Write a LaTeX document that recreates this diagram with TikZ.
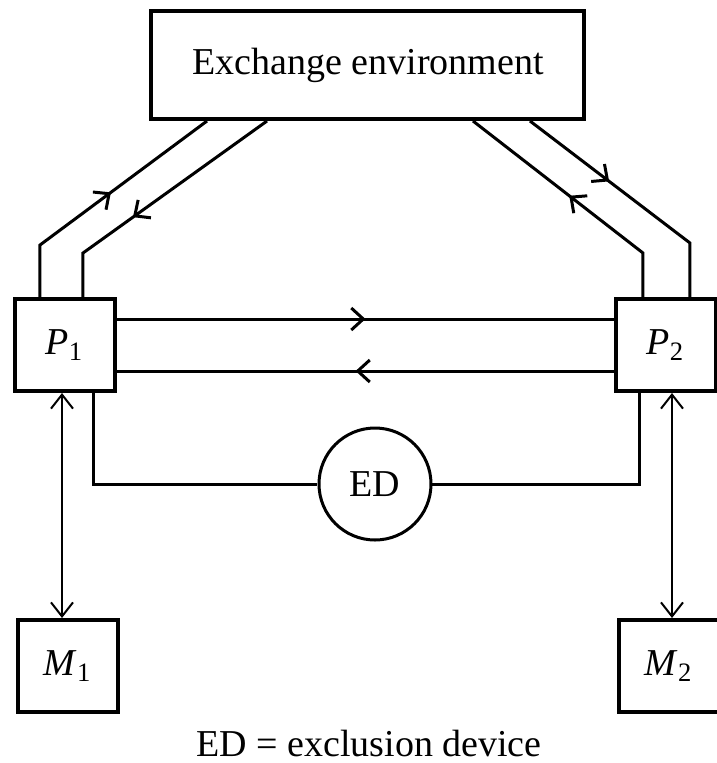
\documentclass[tikz,border=0pt]{standalone}
\usepackage{fontspec}
\setmainfont{Liberation Serif}
\usetikzlibrary{arrows.meta, decorations.markings}

\tikzset{
    box/.style={draw, line width=1pt, minimum width=25pt, minimum height=23pt, inner sep=0pt},
    flowline/.style={line width=0.75pt, postaction={decorate},
        decoration={markings, mark=at position #1 with {\arrow{Straight Barb[length=3pt,width=5.5pt]}}}},
    duo/.style={line width=0.5pt, {Straight Barb[length=3.5pt,width=5.5pt]}-{Straight Barb[length=3.5pt,width=5.5pt]}}
}

\begin{document}
\begin{tikzpicture}[x=0.25pt, y=-0.25pt, font=\fontsize{9.5}{11}\selectfont]
    \useasboundingbox (0,0) rectangle (717,763);

    % Boxes
    \node[box, minimum width=108.25pt, minimum height=27pt] (env) at (368,65) {Exchange environment};
    \node[box] (P1) at (65,345) {\textit{P}\textsubscript{1}};
    \node[box] (P2) at (666,345) {\textit{P}\textsubscript{2}};
    \node[box] (M1) at (68,666) {\textit{M}\textsubscript{1}};
    \node[box] (M2) at (669,666) {\textit{M}\textsubscript{2}};
    \node[draw, circle, line width=0.75pt, minimum size=28pt, inner sep=0pt] (ed) at (375,484) {ED};

    % Links to the exchange environment
    \draw[flowline=0.54] (40,0 |- P1.north) -- (40,245) -- (207,0 |- env.south);
    \draw[flowline=0.61] (267,0 |- env.south) -- (83,253) -- (83,0 |- P1.north);
    \draw[flowline=0.39] (530,0 |- env.south) -- (690,243) -- (690,0 |- P2.north);
    \draw[flowline=0.53] (643,0 |- P2.north) -- (643,253) -- (473,0 |- env.south);

    % Direct links
    \draw[flowline=0.5] (P1.east |- 0,319) -- (P2.west |- 0,319);
    \draw[flowline=0.52] (P2.west |- 0,371) -- (P1.east |- 0,371);

    % Exclusion device
    \draw[line width=0.75pt] (94,0 |- P1.south) |- (ed.west);
    \draw[line width=0.75pt] (ed.east) -| (640,0 |- P2.south);

    % Memories
    \draw[duo] (62,0 |- P1.south) -- (62,0 |- M1.north);
    \draw[duo] (672,0 |- P2.south) -- (672,0 |- M2.north);

    \node (key) at (369,743) {ED = exclusion device};
\end{tikzpicture}
\end{document}
